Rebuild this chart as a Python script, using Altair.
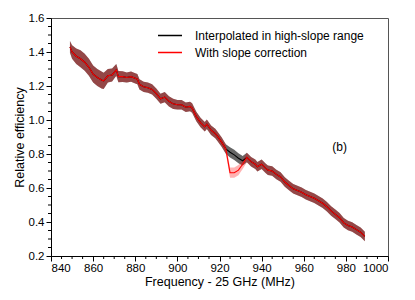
import altair as alt
import pandas as pd

# ---- data ----
freq = [849, 850, 852, 854, 856, 858, 860, 862, 864, 865, 867, 869, 871, 872, 874, 876,
        878, 880, 881, 882, 884, 886, 888, 890, 892, 894, 896, 898, 900, 902, 904, 906,
        907, 909, 911, 913, 914, 916, 918, 919, 921, 923, 925, 927, 929, 931, 933, 935,
        937, 938, 940, 942, 943, 945, 947, 949, 951, 953, 955, 957, 959, 961, 963, 965,
        967, 969, 971, 973, 975, 977, 979, 981, 983, 985, 987, 989]
interp = [1.43, 1.40, 1.375, 1.36, 1.34, 1.31, 1.27, 1.25, 1.235, 1.23, 1.26, 1.265, 1.295, 1.255, 1.255, 1.25,
          1.255, 1.245, 1.24, 1.21, 1.195, 1.19, 1.18, 1.155, 1.125, 1.135, 1.11, 1.095, 1.09, 1.09, 1.075, 1.08,
          1.07, 1.02, 0.985, 0.96, 0.975, 0.94, 0.92, 0.905, 0.87, 0.83, 0.81, 0.795, 0.775, 0.76, 0.78, 0.755,
          0.74, 0.725, 0.74, 0.715, 0.705, 0.70, 0.68, 0.665, 0.635, 0.615, 0.595, 0.585, 0.575, 0.56, 0.55, 0.54,
          0.525, 0.51, 0.49, 0.465, 0.445, 0.425, 0.395, 0.38, 0.37, 0.355, 0.34, 0.315]
corrected = [1.43, 1.40, 1.375, 1.36, 1.34, 1.31, 1.27, 1.25, 1.235, 1.23, 1.26, 1.265, 1.295, 1.255, 1.255, 1.25,
             1.255, 1.245, 1.24, 1.21, 1.195, 1.19, 1.18, 1.155, 1.125, 1.135, 1.11, 1.095, 1.09, 1.09, 1.075, 1.08,
             1.07, 1.02, 0.985, 0.96, 0.975, 0.94, 0.92, 0.905, 0.87, 0.83, 0.69, 0.69, 0.705, 0.74, 0.78, 0.755,
             0.74, 0.725, 0.74, 0.715, 0.705, 0.70, 0.68, 0.665, 0.635, 0.615, 0.595, 0.585, 0.575, 0.56, 0.55, 0.54,
             0.525, 0.51, 0.49, 0.465, 0.445, 0.425, 0.395, 0.38, 0.37, 0.355, 0.34, 0.315]
halfwidth = [0.035, 0.04, 0.045, 0.05, 0.05, 0.05, 0.05, 0.05, 0.05, 0.048, 0.04, 0.038, 0.035, 0.033, 0.032, 0.03,
             0.03, 0.03, 0.03, 0.03, 0.03, 0.03, 0.03, 0.03, 0.03, 0.03, 0.03, 0.03, 0.028, 0.028, 0.028, 0.028,
             0.028, 0.028, 0.028, 0.028, 0.028, 0.028, 0.028, 0.028, 0.028, 0.028, 0.03, 0.03, 0.03, 0.028, 0.028, 0.028,
             0.028, 0.028, 0.028, 0.028, 0.028, 0.028, 0.028, 0.028, 0.028, 0.028, 0.028, 0.028, 0.028, 0.028, 0.028, 0.028,
             0.028, 0.028, 0.028, 0.028, 0.028, 0.028, 0.028, 0.028, 0.028, 0.028, 0.028, 0.028]
series_names = ["Interpolated in high-slope range", "With slope correction"]
series_colors = ["#000000", "#ff0000"]
x_major = [840, 860, 880, 900, 920, 940, 960, 980, 1000]
x_minor = [845, 850, 855, 865, 870, 875, 885, 890, 895, 905, 910, 915, 925, 930, 935,
           945, 950, 955, 965, 970, 975, 985, 990, 995]
y_major = [0.2, 0.4, 0.6, 0.8, 1.0, 1.2, 1.4, 1.6]
y_minor = [0.25, 0.3, 0.35, 0.45, 0.5, 0.55, 0.65, 0.7, 0.75, 0.85, 0.9, 0.95,
           1.05, 1.1, 1.15, 1.25, 1.3, 1.35, 1.45, 1.5, 1.55]
label_text = "(b)"
label_pos = (977, 0.84)

W, H = 337, 238
FONT = "Liberation Sans"

rows = []
for f, a, b, h in zip(freq, interp, corrected, halfwidth):
    rows.append({"freq": f, "eff": a, "lo": a - h, "hi": a + h, "series": series_names[0]})
    rows.append({"freq": f, "eff": b, "lo": b - h, "hi": b + h, "series": series_names[1]})
df = pd.DataFrame(rows)

xs = alt.Scale(domain=[840, 1000], nice=False, zero=False)
ys = alt.Scale(domain=[0.2, 1.6], nice=False, zero=False)
xaxis = alt.Axis(values=x_major, title="Frequency - 25 GHz (MHz)", format="d", grid=False,
                 tickSize=5, labelPadding=1, titlePadding=2)
yaxis = alt.Axis(values=y_major, title="Relative efficiency", format=".1f", grid=False,
                 tickSize=5, labelPadding=2, titlePadding=2)

X = alt.X("freq:Q", scale=xs, axis=xaxis)
Y = alt.Y("eff:Q", scale=ys, axis=yaxis)

base = alt.Chart(df)
band_black = base.transform_filter(alt.datum.series == series_names[0]).mark_area(
    color="#666666", opacity=1.0).encode(x=X, y=alt.Y("lo:Q", scale=ys, axis=yaxis), y2="hi:Q")
band_red = base.transform_filter(alt.datum.series == series_names[1]).mark_area(
    color="#ff0000", opacity=0.3).encode(x=X, y=alt.Y("lo:Q", scale=ys, axis=yaxis), y2="hi:Q")

color = alt.Color("series:N", scale=alt.Scale(domain=series_names, range=series_colors),
                  legend=alt.Legend(title=None, orient="none", legendX=106, legendY=10,
                                    symbolType="stroke", symbolSize=576, symbolStrokeWidth=1.3,
                                    labelFontSize=12, labelFont=FONT, labelOffset=12,
                                    clipHeight=15, rowPadding=2, padding=0, labelLimit=300))
lines = base.mark_line(strokeWidth=1.1).encode(x=X, y=Y, color=color, order=alt.Order("freq:Q"))

xm = alt.Chart(pd.DataFrame({"freq": x_minor})).mark_rule(color="black").encode(
    x=X, y=alt.value(H), y2=alt.value(H + 3))
ym = alt.Chart(pd.DataFrame({"eff": y_minor})).mark_rule(color="black").encode(
    y=Y, x=alt.value(-3), x2=alt.value(0))

txt = alt.Chart(pd.DataFrame({"freq": [label_pos[0]], "eff": [label_pos[1]], "t": [label_text]})).mark_text(
    font=FONT, fontSize=12, color="black").encode(x=X, y=Y, text="t:N")

chart = alt.layer(band_black, band_red, lines, xm, ym, txt).properties(
    width=W, height=H,
    autosize=alt.AutoSizeParams(type="none"),
    padding={"left": 43, "top": 10, "right": 12, "bottom": 36},
).configure_view(stroke="#555555", strokeWidth=1).configure_axis(
    labelFont=FONT, titleFont=FONT, labelFontSize=11.5, titleFontSize=12.5,
    labelColor="black", titleColor="black", titleFontWeight="normal",
    domainColor="black", tickColor="black", domainWidth=1, tickWidth=1,
).configure_legend(labelColor="black")

chart.save("out.html", embed_options={"renderer": "svg", "actions": False})
